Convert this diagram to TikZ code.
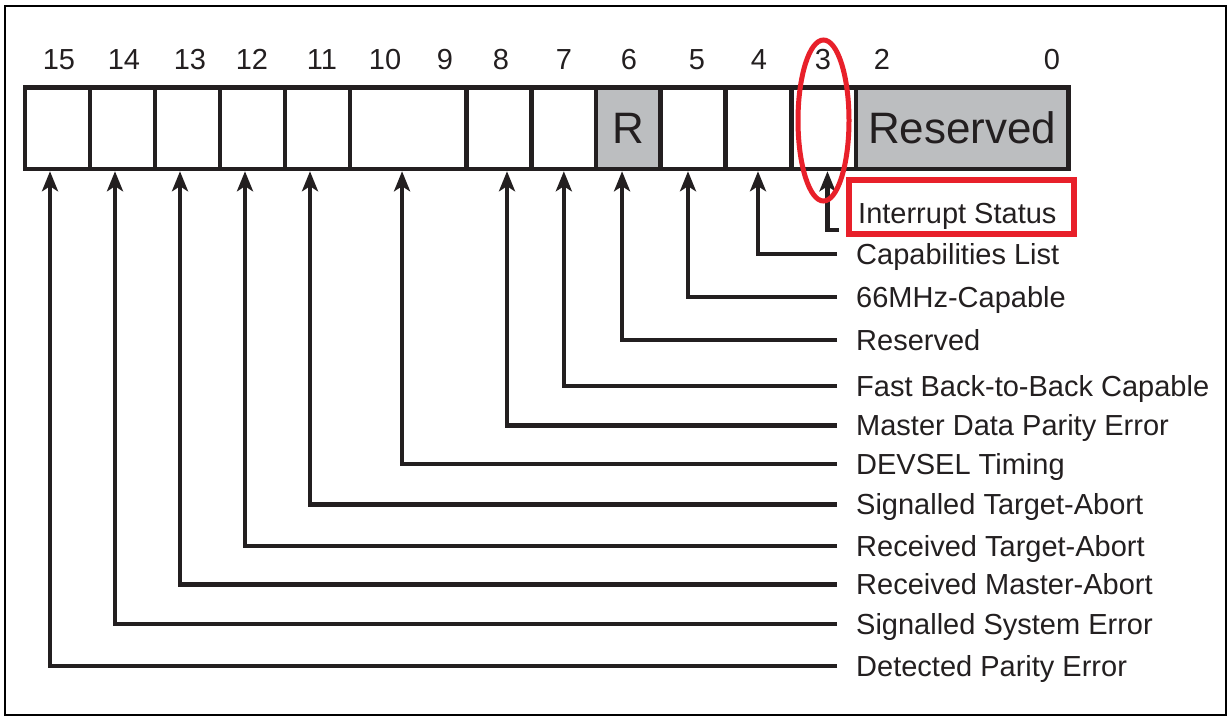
\documentclass[tikz,border=0pt]{standalone}
\usepackage{fontspec}
\setmainfont{Liberation Sans}
\usetikzlibrary{arrows.meta,shapes.geometric}
\definecolor{ink}{HTML}{231F20}
\definecolor{regfill}{HTML}{BCBEC0}
\definecolor{hired}{HTML}{E8202A}
\begin{document}
\begin{tikzpicture}[x=1pt,y=-1pt,
  cell/.style={draw=ink, line width=4.5pt, minimum height=81.5pt, inner sep=0pt, outer sep=0pt},
  grey/.style={cell, fill=regfill, font=\fontsize{44}{50}\selectfont, text=ink},
  num/.style={font=\fontsize{29}{34}\selectfont, text=ink, inner sep=0pt, text height=20.8pt, text depth=0pt},
  lab/.style={num, anchor=west},
  conn/.style={draw=ink, line width=4.1pt, -{Stealth[length=20pt,width=16pt,inset=5pt]}},
  redline/.style={draw=hired, line width=5pt},
]
\useasboundingbox (0,0) rectangle (1231,720);
\draw[black, line width=2pt] (5,5.5) rectangle (1226,714.5);

% register cells
\node[cell, minimum width=65pt]    (c15) at (57.5,128) {};
\node[cell, minimum width=65pt]    (c14) at (122.5,128) {};
\node[cell, minimum width=65pt]    (c13) at (187.5,128) {};
\node[cell, minimum width=65pt]    (c12) at (252.5,128) {};
\node[cell, minimum width=65pt]    (c11) at (317.5,128) {};
\node[cell, minimum width=116.7pt] (c10) at (408.35,128) {};
\node[cell, minimum width=65pt]    (c8)  at (499.2,128) {};
\node[cell, minimum width=64.3pt]  (c7)  at (563.85,128) {};
\node[cell, minimum width=65pt]    (c5)  at (693.2,128) {};
\node[cell, minimum width=66pt]    (c4)  at (758.7,128) {};
\node[cell, minimum width=64.3pt]  (c3)  at (823.85,128) {};
\node[grey, minimum width=64.7pt]  (c6)  at (628.35,128) {R};
\node[grey, minimum width=212.3pt] (c2)  at (962.15,128) {Reserved};

% bit numbers
\node[num] (n15) at (59,58.7) {15};
\node[num] (n14) at (124,58.7) {14};
\node[num] (n13) at (190,58.7) {13};
\node[num] (n12) at (252,58.7) {12};
\node[num] (n11) at (322,58.7) {11};
\node[num] (n10) at (385,58.7) {10};
\node[num] (n9)  at (445,58.7) {9};
\node[num] (n8)  at (501,58.7) {8};
\node[num] (n7)  at (564,58.7) {7};
\node[num] (n6)  at (629,58.7) {6};
\node[num] (n5)  at (697,58.7) {5};
\node[num] (n4)  at (759,58.7) {4};
\node[num] (n3)  at (823,58.7) {3};
\node[num] (n2)  at (882,58.7) {2};
\node[num] (n0)  at (1052,58.7) {0};

% labels
\node[draw=hired, line width=6pt, minimum width=225.5pt, minimum height=54pt, inner sep=0pt] (isbox) at (961.25,207) {};
\node[lab] (l3)  at (858,213) {Interrupt Status};
\node[lab] (l4)  at (856,254) {Capabilities List};
\node[lab] (l5)  at (856,297) {66MHz-Capable};
\node[lab] (l6)  at (856,340) {Reserved};
\node[lab] (l7)  at (856,386) {Fast Back-to-Back Capable};
\node[lab] (l8)  at (856,425.5) {Master Data Parity Error};
\node[lab] (l10) at (856,464) {DEVSEL Timing};
\node[lab] (l11) at (856,504.5) {Signalled Target-Abort};
\node[lab] (l12) at (856,546) {Received Target-Abort};
\node[lab] (l13) at (856,584.5) {Received Master-Abort};
\node[lab] (l14) at (856,624) {Signalled System Error};
\node[lab] (l15) at (856,666) {Detected Parity Error};

% connectors
\coordinate (e3) at (839,230);
\draw[conn] (e3) -| ([xshift=3.6pt,yshift=-2.5pt]c3.south);
\draw[conn] ([xshift=-19pt]l4.west)  -| ([xshift=-0.7pt,yshift=-2.5pt]c4.south);
\draw[conn] ([xshift=-19pt]l5.west)  -| ([xshift=-5.2pt,yshift=-2.5pt]c5.south);
\draw[conn] ([xshift=-19pt]l6.west)  -| ([xshift=-6.3pt,yshift=-2.5pt]c6.south);
\draw[conn] ([xshift=-19pt]l7.west)  -| ([xshift=0pt,yshift=-2.5pt]c7.south);
\draw[conn] ([xshift=-19pt]l8.west)  -| ([xshift=7.8pt,yshift=-2.5pt]c8.south);
\draw[conn] ([xshift=-19pt]l10.west) -| ([xshift=-6.3pt,yshift=-2.5pt]c10.south);
\draw[conn] ([xshift=-19pt]l11.west) -| ([xshift=-7.5pt,yshift=-2.5pt]c11.south);
\draw[conn] ([xshift=-19pt]l12.west) -| ([xshift=-7.5pt,yshift=-2.5pt]c12.south);
\draw[conn] ([xshift=-19pt]l13.west) -| ([xshift=-7.5pt,yshift=-2.5pt]c13.south);
\draw[conn] ([xshift=-19pt]l14.west) -| ([xshift=-7.5pt,yshift=-2.5pt]c14.south);
\draw[conn] ([xshift=-19pt]l15.west) -| ([xshift=-7.5pt,yshift=-2.5pt]c15.south);

% highlight ellipse
\node[ellipse, redline, minimum width=51pt, minimum height=161pt, inner sep=0pt] (hl) at (823.5,120.5) {};
\end{tikzpicture}
\end{document}
